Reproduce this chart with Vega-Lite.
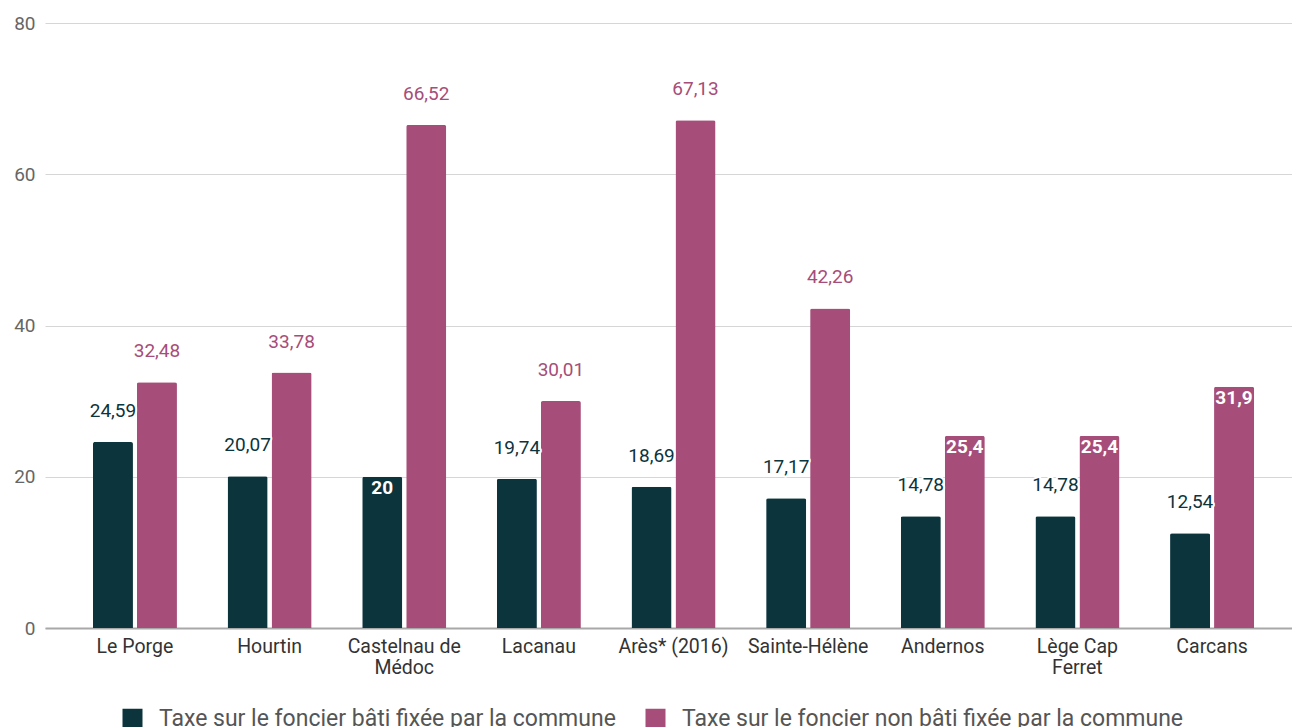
{
  "$schema": "https://vega.github.io/schema/vega-lite/v6.json",
  "autosize": {"type": "none"},
  "padding": {"left": 45, "top": 23, "right": -10, "bottom": 99},
  "width": 1257,
  "height": 605,
  "background": "#ffffff",
  "config": {
    "font": "Roboto",
    "view": {"stroke": null},
    "locale": {"number": {"decimal": ",", "thousands": " ", "grouping": [3], "currency": ["", " €"]}}
  },
  "data": {
    "values": [
      {"commune": "Le Porge", "serie": "Taxe sur le foncier bâti fixée par la commune", "value": 24.59},
      {"commune": "Le Porge", "serie": "Taxe sur le foncier non bâti fixée par la commune", "value": 32.48},
      {"commune": "Hourtin", "serie": "Taxe sur le foncier bâti fixée par la commune", "value": 20.07},
      {"commune": "Hourtin", "serie": "Taxe sur le foncier non bâti fixée par la commune", "value": 33.78},
      {"commune": "Castelnau de Médoc", "serie": "Taxe sur le foncier bâti fixée par la commune", "value": 20},
      {"commune": "Castelnau de Médoc", "serie": "Taxe sur le foncier non bâti fixée par la commune", "value": 66.52},
      {"commune": "Lacanau", "serie": "Taxe sur le foncier bâti fixée par la commune", "value": 19.74},
      {"commune": "Lacanau", "serie": "Taxe sur le foncier non bâti fixée par la commune", "value": 30.01},
      {"commune": "Arès* (2016)", "serie": "Taxe sur le foncier bâti fixée par la commune", "value": 18.69},
      {"commune": "Arès* (2016)", "serie": "Taxe sur le foncier non bâti fixée par la commune", "value": 67.13},
      {"commune": "Sainte-Hélène", "serie": "Taxe sur le foncier bâti fixée par la commune", "value": 17.17},
      {"commune": "Sainte-Hélène", "serie": "Taxe sur le foncier non bâti fixée par la commune", "value": 42.26},
      {"commune": "Andernos", "serie": "Taxe sur le foncier bâti fixée par la commune", "value": 14.78},
      {"commune": "Andernos", "serie": "Taxe sur le foncier non bâti fixée par la commune", "value": 25.4},
      {"commune": "Lège Cap Ferret", "serie": "Taxe sur le foncier bâti fixée par la commune", "value": 14.78},
      {"commune": "Lège Cap Ferret", "serie": "Taxe sur le foncier non bâti fixée par la commune", "value": 25.4},
      {"commune": "Carcans", "serie": "Taxe sur le foncier bâti fixée par la commune", "value": 12.54},
      {"commune": "Carcans", "serie": "Taxe sur le foncier non bâti fixée par la commune", "value": 31.9}
    ]
  },
  "encoding": {
    "x": {
      "field": "commune",
      "type": "nominal",
      "sort": null,
      "scale": {"paddingInner": 0.376, "paddingOuter": 0.356},
      "axis": {
        "title": null,
        "labelAngle": 0,
        "ticks": false,
        "labelPadding": 9,
        "labelFontSize": 19.5,
        "labelColor": "#333333",
        "labelLineHeight": 21,
        "domainColor": "#a8a8a8",
        "domainWidth": 2,
        "labelExpr": "datum.value == 'Castelnau de Médoc' ? ['Castelnau de', 'Médoc'] : datum.value == 'Lège Cap Ferret' ? ['Lège Cap', 'Ferret'] : datum.value"
      }
    },
    "xOffset": {
      "field": "serie",
      "type": "nominal",
      "sort": ["Taxe sur le foncier bâti fixée par la commune", "Taxe sur le foncier non bâti fixée par la commune"],
      "scale": {"paddingInner": 0.09}
    },
    "y": {
      "field": "value",
      "type": "quantitative",
      "scale": {"domain": [0, 80], "nice": false},
      "axis": {
        "title": null,
        "values": [0, 20, 40, 60, 80],
        "ticks": false,
        "domain": false,
        "labelPadding": 10,
        "labelFontSize": 19,
        "labelColor": "#666666",
        "gridColor": "#d6d6d6",
        "gridWidth": 1
      }
    }
  },
  "layer": [
    {
      "mark": {"type": "bar", "cornerRadiusTopLeft": 2, "cornerRadiusTopRight": 2},
      "encoding": {
        "color": {
          "field": "serie",
          "type": "nominal",
          "sort": ["Taxe sur le foncier bâti fixée par la commune", "Taxe sur le foncier non bâti fixée par la commune"],
          "scale": {
            "domain": ["Taxe sur le foncier bâti fixée par la commune", "Taxe sur le foncier non bâti fixée par la commune"],
            "range": ["#0c343d", "#a64d79"]
          },
          "legend": {
            "title": null,
            "orient": "none",
            "legendX": 76,
            "legendY": 684,
            "direction": "horizontal",
            "symbolType": "square",
            "symbolSize": 400,
            "symbolStrokeWidth": 0,
            "labelFontSize": 23,
            "labelColor": "#555555",
            "labelOffset": 15,
            "columnPadding": 28,
            "padding": 0,
            "labelLimit": 700
          }
        }
      }
    },
    {
      "transform": [{"filter": "!((datum.commune == 'Castelnau de Médoc' && datum.serie == 'Taxe sur le foncier bâti fixée par la commune') || (datum.serie == 'Taxe sur le foncier non bâti fixée par la commune' && (datum.commune == 'Andernos' || datum.commune == 'Lège Cap Ferret' || datum.commune == 'Carcans')))"}],
      "mark": {"type": "text", "dy": -31, "fontSize": 19, "baseline": "middle", "stroke": "#ffffff", "strokeWidth": 4, "fill": "#ffffff", "strokeJoin": "round"},
      "encoding": {
        "text": {"field": "value", "type": "quantitative", "format": "~g"}
      }
    },
    {
      "transform": [{"filter": "!((datum.commune == 'Castelnau de Médoc' && datum.serie == 'Taxe sur le foncier bâti fixée par la commune') || (datum.serie == 'Taxe sur le foncier non bâti fixée par la commune' && (datum.commune == 'Andernos' || datum.commune == 'Lège Cap Ferret' || datum.commune == 'Carcans')))"}],
      "mark": {"type": "text", "dy": -31, "fontSize": 19, "baseline": "middle"},
      "encoding": {
        "text": {"field": "value", "type": "quantitative", "format": "~g"},
        "color": {
          "condition": {"test": "datum.serie == 'Taxe sur le foncier bâti fixée par la commune'", "value": "#0c343d"},
          "value": "#a64d79"
        }
      }
    },
    {
      "transform": [{"filter": "(datum.commune == 'Castelnau de Médoc' && datum.serie == 'Taxe sur le foncier bâti fixée par la commune') || (datum.serie == 'Taxe sur le foncier non bâti fixée par la commune' && (datum.commune == 'Andernos' || datum.commune == 'Lège Cap Ferret' || datum.commune == 'Carcans'))"}],
      "mark": {"type": "text", "dy": 11, "fontSize": 19, "fontWeight": "bold", "baseline": "middle", "fill": "#ffffff"},
      "encoding": {
        "text": {"field": "value", "type": "quantitative", "format": "~g"}
      }
    }
  ]
}
